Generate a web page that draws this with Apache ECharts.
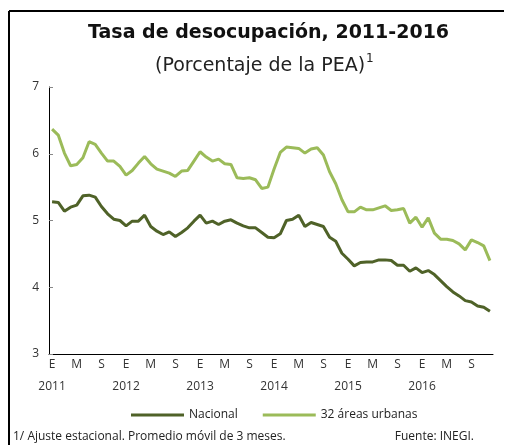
<!DOCTYPE html>
<html>
<head>
<meta charset="utf-8">
<script src="https://cdn.jsdelivr.net/npm/echarts@6/dist/echarts.min.js"></script>
<style>
  html, body { margin: 0; padding: 0; background: #fff; }
  #chart { width: 511px; height: 445px; }
</style>
</head>
<body>
<div id="chart"></div>
<script>
// datos
const years = ['2011', '2012', '2013', '2014', '2015', '2016'];
const monthLetters = ['E', 'F', 'M', 'A', 'M', 'J', 'J', 'A', 'S', 'O', 'N', 'D'];
const yTicks = [3, 4, 5, 6, 7];

const nacional = [
  5.28, 5.27, 5.14, 5.20, 5.23, 5.37, 5.38, 5.35, 5.21, 5.10, 5.02, 5.00,
  4.92, 4.99, 4.99, 5.08, 4.91, 4.84, 4.79, 4.83, 4.76, 4.82, 4.89, 4.99,
  5.08, 4.96, 4.99, 4.94, 4.99, 5.01, 4.96, 4.92, 4.89, 4.89, 4.82, 4.75,
  4.74, 4.80, 5.00, 5.02, 5.08, 4.91, 4.97, 4.94, 4.91, 4.75, 4.69, 4.51,
  4.42, 4.32, 4.37, 4.38, 4.38, 4.41, 4.41, 4.40, 4.33, 4.33, 4.24, 4.29,
  4.22, 4.25, 4.19, 4.10, 4.01, 3.93, 3.87, 3.80, 3.78, 3.72, 3.70, 3.64
];

const urbanas = [
  6.37, 6.28, 6.01, 5.82, 5.84, 5.94, 6.18, 6.14, 6.01, 5.89, 5.89, 5.81,
  5.68, 5.75, 5.86, 5.96, 5.85, 5.77, 5.74, 5.71, 5.66, 5.74, 5.75, 5.89,
  6.03, 5.95, 5.89, 5.92, 5.85, 5.84, 5.64, 5.63, 5.64, 5.61, 5.48, 5.50,
  5.77, 6.02, 6.10, 6.09, 6.08, 6.01, 6.07, 6.09, 5.98, 5.73, 5.55, 5.31,
  5.13, 5.13, 5.20, 5.16, 5.16, 5.19, 5.22, 5.15, 5.16, 5.18, 4.96, 5.05,
  4.90, 5.04, 4.81, 4.72, 4.72, 4.70, 4.65, 4.56, 4.71, 4.67, 4.62, 4.40
];

// categorias: letra del mes, con el año bajo enero
const categories = [];
years.forEach(function (y) {
  monthLetters.forEach(function (m, i) {
    categories.push(i === 0 ? m + '|' + y : m);
  });
});

const font = '"Open Sans", "Noto Sans", sans-serif';
const wide = '"DejaVu Sans", sans-serif';
const myChart = echarts.init(document.getElementById('chart'), null, { renderer: 'canvas' });

const option = {
  backgroundColor: '#fff',
  animation: false,
  textStyle: { fontFamily: font },
  title: [
    {
      text: 'Tasa de desocupación, 2011-2016',
      left: 83,
      top: 19,
      textStyle: { fontFamily: wide, fontSize: 19, fontWeight: 'bold', color: '#111' }
    },
    {
      text: '{a|(Porcentaje de la PEA)}{s|1}',
      left: 150,
      top: 48,
      textStyle: {
        fontFamily: wide,
        fontWeight: 'normal',
        rich: {
          a: { fontFamily: wide, fontSize: 19, fontWeight: 'normal', color: '#222', lineHeight: 26 },
          s: { fontFamily: wide, fontSize: 12, fontWeight: 'normal', color: '#222', verticalAlign: 'top', padding: [0, 0, 10, 1] }
        }
      }
    }
  ],
  legend: {
    bottom: 19,
    left: 126,
    itemWidth: 53,
    itemHeight: 3,
    itemGap: 25,
    icon: 'rect',
    textStyle: { fontFamily: font, fontSize: 12, color: '#222' },
    data: ['Nacional', '32 áreas urbanas']
  },
  grid: {
    left: 49,
    right: 18,
    top: 87,
    bottom: 91,
    containLabel: false
  },
  xAxis: [
    {
      type: 'category',
      data: categories,
      boundaryGap: true,
      axisLine: { lineStyle: { color: '#000', width: 1 } },
      axisTick: { interval: 3, length: 4, lineStyle: { color: '#333' } },
      axisLabel: {
        interval: 3,
        margin: 3,
        formatter: function (v) {
          const p = v.split('|');
          return p.length > 1 ? '{m|' + p[0] + '}\n{y|' + p[1] + '}' : '{m|' + p[0] + '}';
        },
        rich: {
          m: { fontFamily: font, fontSize: 12, color: '#333', lineHeight: 16 },
          y: { fontFamily: font, fontSize: 12, color: '#333', lineHeight: 28 }
        }
      }
    },
    {
      type: 'category',
      data: categories,
      position: 'bottom',
      boundaryGap: true,
      axisLine: { show: false },
      axisTick: { interval: 3, length: 3, inside: true, lineStyle: { color: '#333' } },
      axisLabel: { show: false }
    }
  ],
  yAxis: {
    type: 'value',
    min: yTicks[0],
    max: yTicks[yTicks.length - 1],
    interval: 1,
    axisLine: { show: true, lineStyle: { color: '#000', width: 1 } },
    axisTick: { show: true, inside: true, length: 4, lineStyle: { color: '#888' } },
    axisLabel: { margin: 10, fontFamily: font, fontSize: 12, color: '#333' },
    splitLine: { show: false }
  },
  series: [
    {
      name: 'Nacional',
      type: 'line',
      data: nacional,
      showSymbol: false,
      symbol: 'none',
      lineStyle: { width: 3, color: '#4F6228' },
      itemStyle: { color: '#4F6228' }
    },
    {
      name: '32 áreas urbanas',
      type: 'line',
      data: urbanas,
      showSymbol: false,
      symbol: 'none',
      lineStyle: { width: 3, color: '#9BBB59' },
      itemStyle: { color: '#9BBB59' }
    }
  ],
  graphic: [
    // marco
    { type: 'line', shape: { x1: 9, y1: 11, x2: 504, y2: 11 }, style: { stroke: '#000', lineWidth: 2 } },
    { type: 'line', shape: { x1: 9, y1: 11, x2: 9, y2: 445 }, style: { stroke: '#000', lineWidth: 2 } },
    {
      type: 'text', left: 13, top: 431,
      style: { text: '1/ Ajuste estacional. Promedio móvil de 3 meses.', font: '12px ' + font, fill: '#222' }
    },
    {
      type: 'text', right: 37, top: 431,
      style: { text: 'Fuente: INEGI.', font: '12px ' + font, fill: '#222' }
    }
  ]
};

myChart.setOption(option);
</script>
</body>
</html>
